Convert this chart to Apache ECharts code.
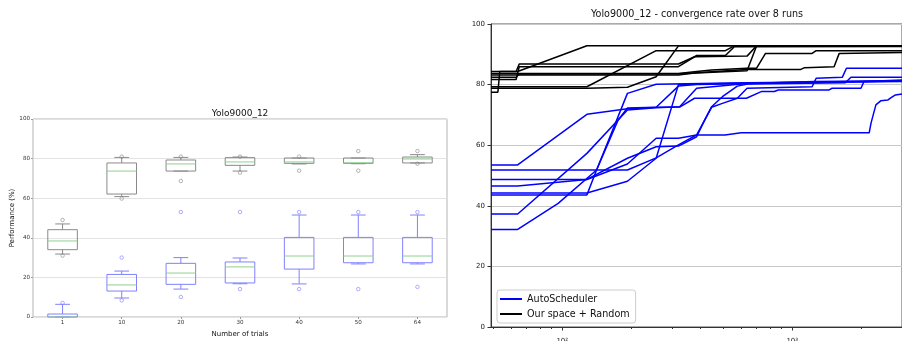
<!DOCTYPE html>
<html><head><meta charset="utf-8">
<script src="https://cdn.jsdelivr.net/npm/echarts@6.0.0/dist/echarts.min.js"></script>
<style>html,body{margin:0;padding:0;background:#fff}#c{width:902px;height:341px}</style>
</head><body><div id="c"></div>
<script>
// ---------- left chart: box plots ----------
const categories = ['1', '10', '20', '30', '40', '50', '64'];
// [min, q1, median, q3, max]
const blackBoxStats = [
  [31.8, 34.0, 38.4, 44.1, 47.0],
  [60.8, 62.1, 73.7, 77.8, 80.6],
  [73.7, 73.7, 77.3, 79.3, 80.6],
  [73.7, 76.6, 78.3, 80.5, 80.8],
  [77.3, 77.6, 78.3, 80.3, 80.3],
  [77.4, 77.6, 77.9, 80.3, 80.3],
  [77.8, 77.8, 79.8, 80.8, 82.0]
];
const blueBoxStats = [
  [0.0, 0.0, 0.0, 1.5, 6.4],
  [9.6, 13.1, 16.2, 21.5, 23.2],
  [14.1, 16.5, 22.2, 27.1, 30.0],
  [16.8, 17.2, 25.3, 27.8, 29.8],
  [16.7, 24.2, 30.8, 40.2, 51.5],
  [26.8, 27.4, 30.8, 40.2, 51.5],
  [26.8, 27.4, 30.8, 40.2, 51.5]
];
// [category index, value]
const blackFliers = [[0,49.0],[0,31.0],[1,81.0],[1,59.8],[2,81.0],[2,68.7],[3,81.0],[3,72.9],[4,81.0],[4,73.9],[5,83.8],[5,73.9],[6,83.8],[6,77.4]];
const blueFliers = [[0,7.1],[1,30.0],[1,8.4],[2,53.0],[2,10.1],[3,53.0],[3,14.1],[4,53.0],[4,14.1],[5,53.0],[5,14.1],[6,53.0],[6,15.2]];

// ---------- right chart: convergence lines ([trials, performance]) ----------
const autoSchedulerRuns = [
  [[49,53.5],[64,53.5],[128,70.2],[192,72.0],[256,72.5],[324,72.6],[376,75.5],[632,75.5],[733,77.7],[836,77.7],[869,78.2],[1440,78.2],[1490,78.8],[1990,78.8],[2050,81.0],[3000,81.5]],
  [[49,51.8],[192,51.8],[256,55.8],[320,60.1],[384,63.4],[446,72.5],[497,73.8],[577,75.5],[636,78.8],[1220,79.3],[1270,82.1],[1650,82.4],[1720,85.4],[3000,85.4]],
  [[49,48.7],[128,48.7],[192,53.8],[256,62.3],[320,62.3],[384,63.4],[510,63.4],[600,64.1],[2160,64.1],[2200,67.3],[2310,73.3],[2430,74.7],[2600,74.9],[2680,75.6],[2810,76.6],[3000,76.9]],
  [[49,46.5],[64,46.5],[128,48.7],[192,55.7],[256,59.5],[320,59.7],[384,62.8],[416,68.3],[446,72.7],[497,76.0],[577,79.5],[640,80.2],[1700,80.6],[1800,82.4],[3000,82.4]],
  [[49,43.6],[128,43.6],[141,51.8],[175,68.3],[192,72.3],[256,72.5],[320,79.5],[384,80.0],[1000,80.6],[3000,81.2]],
  [[49,37.3],[64,37.3],[128,57.3],[192,71.6],[256,72.4],[324,72.7],[384,78.8],[632,80.4],[1250,81.0],[3000,81.3]],
  [[49,44.2],[128,44.2],[192,48.1],[256,55.7],[320,80.0],[640,80.5],[3000,81.0]],
  [[49,32.2],[64,32.2],[96,40.8],[141,51.8],[192,77.1],[256,80.1],[640,80.6],[3000,81.2]]
];
const randomRuns = [
  [[49,84.3],[64,84.3],[128,92.8],[3000,92.8]],
  [[49,78.8],[128,78.8],[192,79.1],[256,82.6],[320,92.8],[3000,92.8]],
  [[49,79.3],[128,79.3],[256,91.2],[512,91.2],[560,92.8],[3000,92.8]],
  [[49,77.5],[52.5,77.5],[53.5,84.3],[63,84.3],[65,86.8],[320,86.8],[376,89.2],[636,89.4],[700,92.8],[3000,92.8]],
  [[49,81.7],[63,81.7],[65,85.9],[320,85.9],[384,89.6],[512,89.6],[560,92.5],[3000,92.6]],
  [[49,83.7],[320,83.7],[384,84.3],[446,84.8],[632,85.4],[700,85.4],[765,90.3],[1220,90.3],[1270,91.2],[3000,91.2]],
  [[49,83.2],[320,83.2],[384,83.9],[632,85.0],[1090,85.0],[1130,85.6],[1520,85.9],[1600,90.3],[3000,90.6]],
  [[49,82.4],[63,82.4],[65,83.5],[320,83.6],[636,84.6],[700,92.8],[3000,92.8]]
];
const majorTrialTicks = [100, 1000];
const majorTrialLabels = ['10\u00b2', '10\u00b3'];
const minorTrialTicks = [50, 60, 70, 80, 90, 200, 300, 400, 500, 600, 700, 800, 900, 2000];

const FONT = 'DejaVu Sans';

function makeBoxRenderer(boxColor, medianColor) {
  return function (params, api) {
    const idx = api.value(0);
    const pLo = api.coord([idx, api.value(1)]);
    const pQ1 = api.coord([idx, api.value(2)]);
    const pMed = api.coord([idx, api.value(3)]);
    const pQ3 = api.coord([idx, api.value(4)]);
    const pHi = api.coord([idx, api.value(5)]);
    const band = api.size([1, 0])[0];
    const w = band * 0.5;
    const cap = w * 0.5;
    const cx = pMed[0];
    const st = { stroke: boxColor, lineWidth: 1, fill: null };
    return {
      type: 'group',
      children: [
        { type: 'line', shape: { x1: cx, y1: pQ3[1], x2: cx, y2: pHi[1] }, style: st },
        { type: 'line', shape: { x1: cx, y1: pQ1[1], x2: cx, y2: pLo[1] }, style: st },
        { type: 'line', shape: { x1: cx - cap / 2, y1: pHi[1], x2: cx + cap / 2, y2: pHi[1] }, style: st },
        { type: 'line', shape: { x1: cx - cap / 2, y1: pLo[1], x2: cx + cap / 2, y2: pLo[1] }, style: st },
        { type: 'rect', shape: { x: cx - w / 2, y: pQ3[1], width: w, height: pQ1[1] - pQ3[1] }, style: { stroke: boxColor, fill: null, lineWidth: 1 } },
        { type: 'line', shape: { x1: cx - w / 2, y1: pMed[1], x2: cx + w / 2, y2: pMed[1] }, style: { stroke: medianColor, lineWidth: 1 } }
      ]
    };
  };
}

function trialLabel(v) {
  let i = majorTrialTicks.findIndex(t => Math.abs(t - v) / t < 1e-3);
  if (i < 0) i = majorTrialTicks.findIndex(t => Math.abs(Math.log10(t) - v) < 1e-3);
  return i >= 0 ? majorTrialLabels[i] : '';
}

const series = [];
series.push({
  type: 'custom', xAxisIndex: 0, yAxisIndex: 0, clip: false, silent: true,
  renderItem: makeBoxRenderer('#8a8a8a', '#8fd08f'),
  encode: { x: 0, y: [1, 2, 3, 4, 5] },
  data: blackBoxStats.map((s, i) => [i].concat(s))
});
series.push({
  type: 'custom', xAxisIndex: 0, yAxisIndex: 0, clip: false, silent: true,
  renderItem: makeBoxRenderer('#8080ff', '#8fd08f'),
  encode: { x: 0, y: [1, 2, 3, 4, 5] },
  data: blueBoxStats.map((s, i) => [i].concat(s))
});
series.push({
  type: 'scatter', xAxisIndex: 0, yAxisIndex: 0, symbol: 'circle', symbolSize: 3.5, silent: true,
  itemStyle: { color: 'rgba(0,0,0,0)', borderColor: '#8a8a8a', borderWidth: 0.8 },
  data: blackFliers
});
series.push({
  type: 'scatter', xAxisIndex: 0, yAxisIndex: 0, symbol: 'circle', symbolSize: 3.5, silent: true,
  itemStyle: { color: 'rgba(0,0,0,0)', borderColor: '#8080ff', borderWidth: 0.8 },
  data: blueFliers
});
autoSchedulerRuns.forEach(run => series.push({
  type: 'line', name: 'AutoScheduler', xAxisIndex: 1, yAxisIndex: 1, data: run,
  showSymbol: false, symbol: 'none', silent: true,
  lineStyle: { width: 1.5, color: '#0000ff' }, itemStyle: { color: '#0000ff' }
}));
randomRuns.forEach(run => series.push({
  type: 'line', name: 'Our space + Random', xAxisIndex: 1, yAxisIndex: 1, data: run,
  showSymbol: false, symbol: 'none', silent: true,
  lineStyle: { width: 1.5, color: '#000000' }, itemStyle: { color: '#000000' }
}));

const option = {
  animation: false,
  backgroundColor: '#ffffff',
  textStyle: { fontFamily: FONT },
  title: [
    { text: 'Yolo9000_12', left: 240, top: 109, textAlign: 'center', padding: 0,
      textStyle: { fontFamily: FONT, fontSize: 9, fontWeight: 'normal', color: '#111' } },
    { text: 'Yolo9000_12 - convergence rate over 8 runs', left: 697, top: 9, textAlign: 'center', padding: 0,
      textStyle: { fontFamily: FONT, fontSize: 9.6, fontWeight: 'normal', color: '#111' } }
  ],
  legend: {
    data: ['AutoScheduler', 'Our space + Random'],
    orient: 'vertical', left: 497, top: 290,
    icon: 'rect', itemWidth: 22, itemHeight: 2, itemGap: 3,
    padding: [3, 6, 3, 3],
    backgroundColor: 'rgba(255,255,255,0.8)', borderColor: '#cccccc', borderWidth: 1, borderRadius: 3,
    textStyle: { fontFamily: FONT, fontSize: 9.6, color: '#111', lineHeight: 12 },
    selectedMode: false
  },
  grid: [
    { left: 33, top: 119, width: 414, height: 198, show: true, borderColor: '#b5b5b5', borderWidth: 1, backgroundColor: 'transparent', containLabel: false, outerBoundsMode: 'none' },
    { left: 491, top: 24, width: 411, height: 303, show: true, borderColor: '#555', borderWidth: 1, backgroundColor: 'transparent', containLabel: false, outerBoundsMode: 'none' }
  ],
  xAxis: [
    { type: 'category', gridIndex: 0, data: categories, boundaryGap: true, position: 'bottom',
      name: 'Number of trials', nameLocation: 'middle', nameGap: 12,
      nameTextStyle: { fontFamily: FONT, fontSize: 7, color: '#111' },
      axisLine: { show: false },
      axisTick: { show: true, alignWithLabel: true, length: 2, lineStyle: { color: '#999' } },
      axisLabel: { fontFamily: FONT, fontSize: 5.6, color: '#333', margin: 3 },
      splitLine: { show: false } },
    { type: 'log', gridIndex: 1, logBase: 10, min: 49, max: 3000, position: 'bottom',
      axisLine: { show: true, onZero: false, lineStyle: { color: '#333' } },
      axisTick: { show: true, length: 3.5, customValues: majorTrialTicks, lineStyle: { color: '#333' } },
      axisLabel: { show: true, customValues: majorTrialTicks, fontFamily: FONT, fontSize: 7, color: '#222', margin: 11,
        formatter: trialLabel },
      splitLine: { show: false }, minorTick: { show: false } },
    { type: 'log', gridIndex: 1, logBase: 10, min: 49, max: 3000, position: 'bottom',
      axisLine: { show: false, onZero: false },
      axisTick: { show: true, length: 2, customValues: minorTrialTicks, lineStyle: { color: '#333' } },
      axisLabel: { show: false },
      splitLine: { show: false } }
  ],
  yAxis: [
    { type: 'value', gridIndex: 0, min: 0, max: 100, interval: 20,
      name: 'Performance (%)', nameLocation: 'middle', nameGap: 16, nameRotate: 90,
      nameTextStyle: { fontFamily: FONT, fontSize: 7, color: '#111' },
      axisLine: { show: false },
      axisTick: { show: true, length: 2, lineStyle: { color: '#999' } },
      axisLabel: { fontFamily: FONT, fontSize: 5.6, color: '#333', margin: 3 },
      splitLine: { show: true, lineStyle: { color: '#e3e3e3', width: 1 } } },
    { type: 'value', gridIndex: 1, min: 0, max: 100, interval: 20,
      axisLine: { show: true, onZero: false, lineStyle: { color: '#333' } },
      axisTick: { show: true, length: 3.5, lineStyle: { color: '#333' } },
      axisLabel: { fontFamily: FONT, fontSize: 7, color: '#222', margin: 6 },
      splitLine: { show: true, lineStyle: { color: '#c8c8c8', width: 1 } } }
  ],
  series: series
};

const chart = echarts.init(document.getElementById('c'), null, { renderer: 'canvas', width: 902, height: 341 });
chart.setOption(option);
</script></body></html>
